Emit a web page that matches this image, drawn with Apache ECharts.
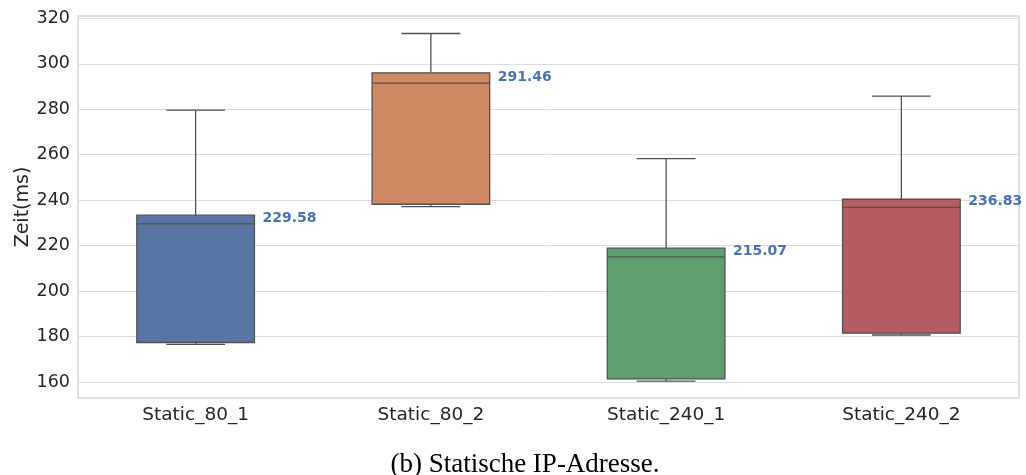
<!DOCTYPE html>
<html>
<head>
<meta charset="utf-8">
<script src="https://cdn.jsdelivr.net/npm/echarts@6/dist/echarts.min.js"></script>
<style>html,body{margin:0;padding:0;background:#fff;}#c{width:1026px;height:475px;}</style>
</head>
<body>
<div id="c"></div>
<script>
const categories = ['Static_80_1', 'Static_80_2', 'Static_240_1', 'Static_240_2'];
const whiskerLow = [176.6, 237.2, 160.4, 180.7];
const q1 = [177.4, 238.2, 161.4, 181.5];
const medians = [229.58, 291.46, 215.07, 236.83];
const q3 = [233.4, 296.0, 218.9, 240.4];
const whiskerHigh = [279.6, 313.3, 258.3, 285.8];
const boxColors = ['#5875a4', '#cc8963', '#5f9e6e', '#b55d60'];
const yTicks = [160, 180, 200, 220, 240, 260, 280, 300, 320];

const data = categories.map((c, i) => [i, whiskerLow[i], q1[i], medians[i], q3[i], whiskerHigh[i]]);

const chart = echarts.init(document.getElementById('c'), null, {renderer: 'canvas'});
const edge = '#505050';
chart.setOption({
  animation: false,
  title: {
    text: '(b) Statische IP-Adresse.',
    left: 520, top: 446, textAlign: 'center',
    textStyle: {fontFamily: 'Liberation Serif', fontWeight: 'normal', fontSize: 27, color: '#000'}
  },
  grid: {left: 78, right: 7, top: 16, bottom: 77, show: true, borderColor: '#d6d6d6', borderWidth: 1.5,
    outerBoundsMode: 'none', containLabel: false},
  xAxis: {
    type: 'category', data: categories,
    axisLine: {show: false}, axisTick: {show: false}, splitLine: {show: false},
    axisLabel: {fontFamily: 'DejaVu Sans', fontSize: 18.5, color: '#262626', margin: 8}
  },
  yAxis: {
    type: 'value', min: 153, max: 321, splitNumber: 8,
    name: 'Zeit(ms)', nameLocation: 'middle', nameGap: 45, nameMoveOverlap: false,
    nameTextStyle: {fontFamily: 'DejaVu Sans', fontSize: 19, color: '#262626'},
    axisLine: {show: false}, axisTick: {show: false},
    axisLabel: {fontFamily: 'DejaVu Sans', fontSize: 17.5, color: '#262626', margin: 8,
      showMinLabel: false, showMaxLabel: true,
      formatter: v => yTicks.indexOf(v) >= 0 ? String(v) : ''},
    splitLine: {lineStyle: {color: '#dcdcdc', width: 1}}
  },
  series: [{
    type: 'custom',
    data: data,
    encode: {x: 0, y: [1, 2, 3, 4, 5]},
    renderItem: function (params, api) {
      const i = api.value(0);
      const band = api.size([1, 0])[0];
      const bw = band * 0.5;
      const cw = bw * 0.5;
      const xc = api.coord([i, 0])[0];
      const yLo = api.coord([i, api.value(1)])[1];
      const yQ1 = api.coord([i, api.value(2)])[1];
      const yMed = api.coord([i, api.value(3)])[1];
      const yQ3 = api.coord([i, api.value(4)])[1];
      const yHi = api.coord([i, api.value(5)])[1];
      const ls = {stroke: edge, lineWidth: 1.3};
      return {
        type: 'group',
        children: [
          {type: 'line', shape: {x1: xc, y1: yQ3, x2: xc, y2: yHi}, style: ls},
          {type: 'line', shape: {x1: xc - cw / 2, y1: yHi, x2: xc + cw / 2, y2: yHi}, style: ls},
          {type: 'line', shape: {x1: xc, y1: yQ1, x2: xc, y2: yLo}, style: ls},
          {type: 'line', shape: {x1: xc - cw / 2, y1: yLo, x2: xc + cw / 2, y2: yLo}, style: ls},
          {type: 'rect', shape: {x: xc - bw / 2, y: yQ3, width: bw, height: yQ1 - yQ3},
            style: {fill: boxColors[i], stroke: edge, lineWidth: 1.3}},
          {type: 'line', shape: {x1: xc - bw / 2, y1: yMed, x2: xc + bw / 2, y2: yMed}, style: ls},
          {type: 'text', x: xc + bw / 2 + 8, y: yMed + 1,
            style: {text: api.value(3).toFixed(2), fill: '#4c72b0', font: 'bold 14px "DejaVu Sans"',
              textAlign: 'left', textVerticalAlign: 'bottom'}}
        ]
      };
    }
  }]
});
</script>
</body>
</html>
